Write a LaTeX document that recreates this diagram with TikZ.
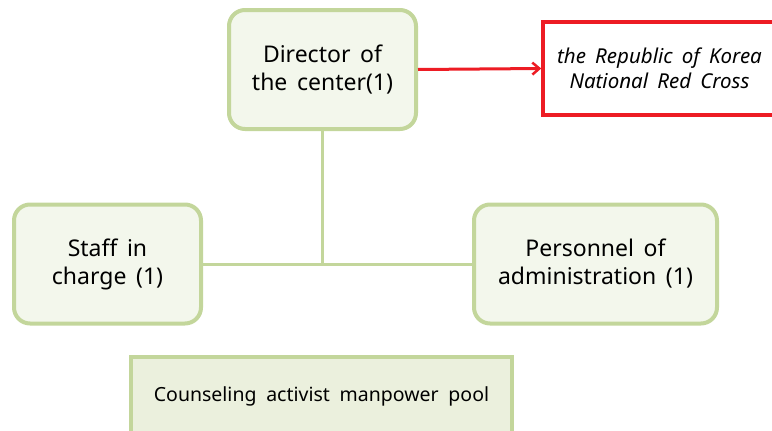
\documentclass[tikz,border=0pt]{standalone}
\usepackage{fontspec}
\setmainfont{Noto Sans}
\usepackage{xcolor}
\usetikzlibrary{arrows.meta,positioning}
\definecolor{boxline}{HTML}{C3D69B}
\definecolor{boxfill}{HTML}{F3F7EC}
\definecolor{poolfill}{HTML}{EBF0DD}
\definecolor{crossred}{HTML}{ED1C24}
\newcommand{\widesp}[1]{\spaceskip=#1\relax}

\begin{document}
\begin{tikzpicture}[
  x=1pt,y=-1pt,
  box/.style={rectangle,draw=boxline,fill=boxfill,line width=4pt,rounded corners=16pt,
    minimum width=187pt,minimum height=119pt,align=center,inner sep=0pt,
    font=\fontsize{23}{28}\selectfont\widesp{0.42em}},
  ext/.style={rectangle,draw=crossred,line width=3.5pt,minimum width=233pt,minimum height=93pt,
    align=center,inner sep=0pt,font=\fontsize{20.5}{25}\selectfont\itshape\widesp{0.45em}},
  pool/.style={rectangle,draw=boxline,fill=poolfill,line width=3.5pt,minimum width=381pt,
    minimum height=78pt,inner sep=0pt,font=\fontsize{19.5}{22}\selectfont\widesp{0.5em}},
  link/.style={draw=boxline,line width=3pt},
  ar/.style={-{Straight Barb[length=7pt,width=12pt,line width=2.5pt]},draw=crossred,line width=3pt}
]
\useasboundingbox (0,0) rectangle (772,431);
% top
\node[box] (director) at (322.5,69.5) {Director of\\ the center(1)};
\node[ext] (redcross) at (659.5,68.5) {the Republic of Korea\\ National Red Cross};
% middle row
\node[box] (staff) at (107.5,264) {Staff in\\ charge (1)};
\node[box,minimum width=243pt] (admin) at (595.5,264) {Personnel of\\ administration (1)};
% pool at the bottom
\node[pool] (pool) at (321.5,396) {Counseling activist manpower pool};

\draw[link] (staff.east) -- (admin.west);
\draw[link] (director.south) -- (director.south |- staff.east);
\draw[ar] (director.east) -- (redcross.west);
\end{tikzpicture}
\end{document}
